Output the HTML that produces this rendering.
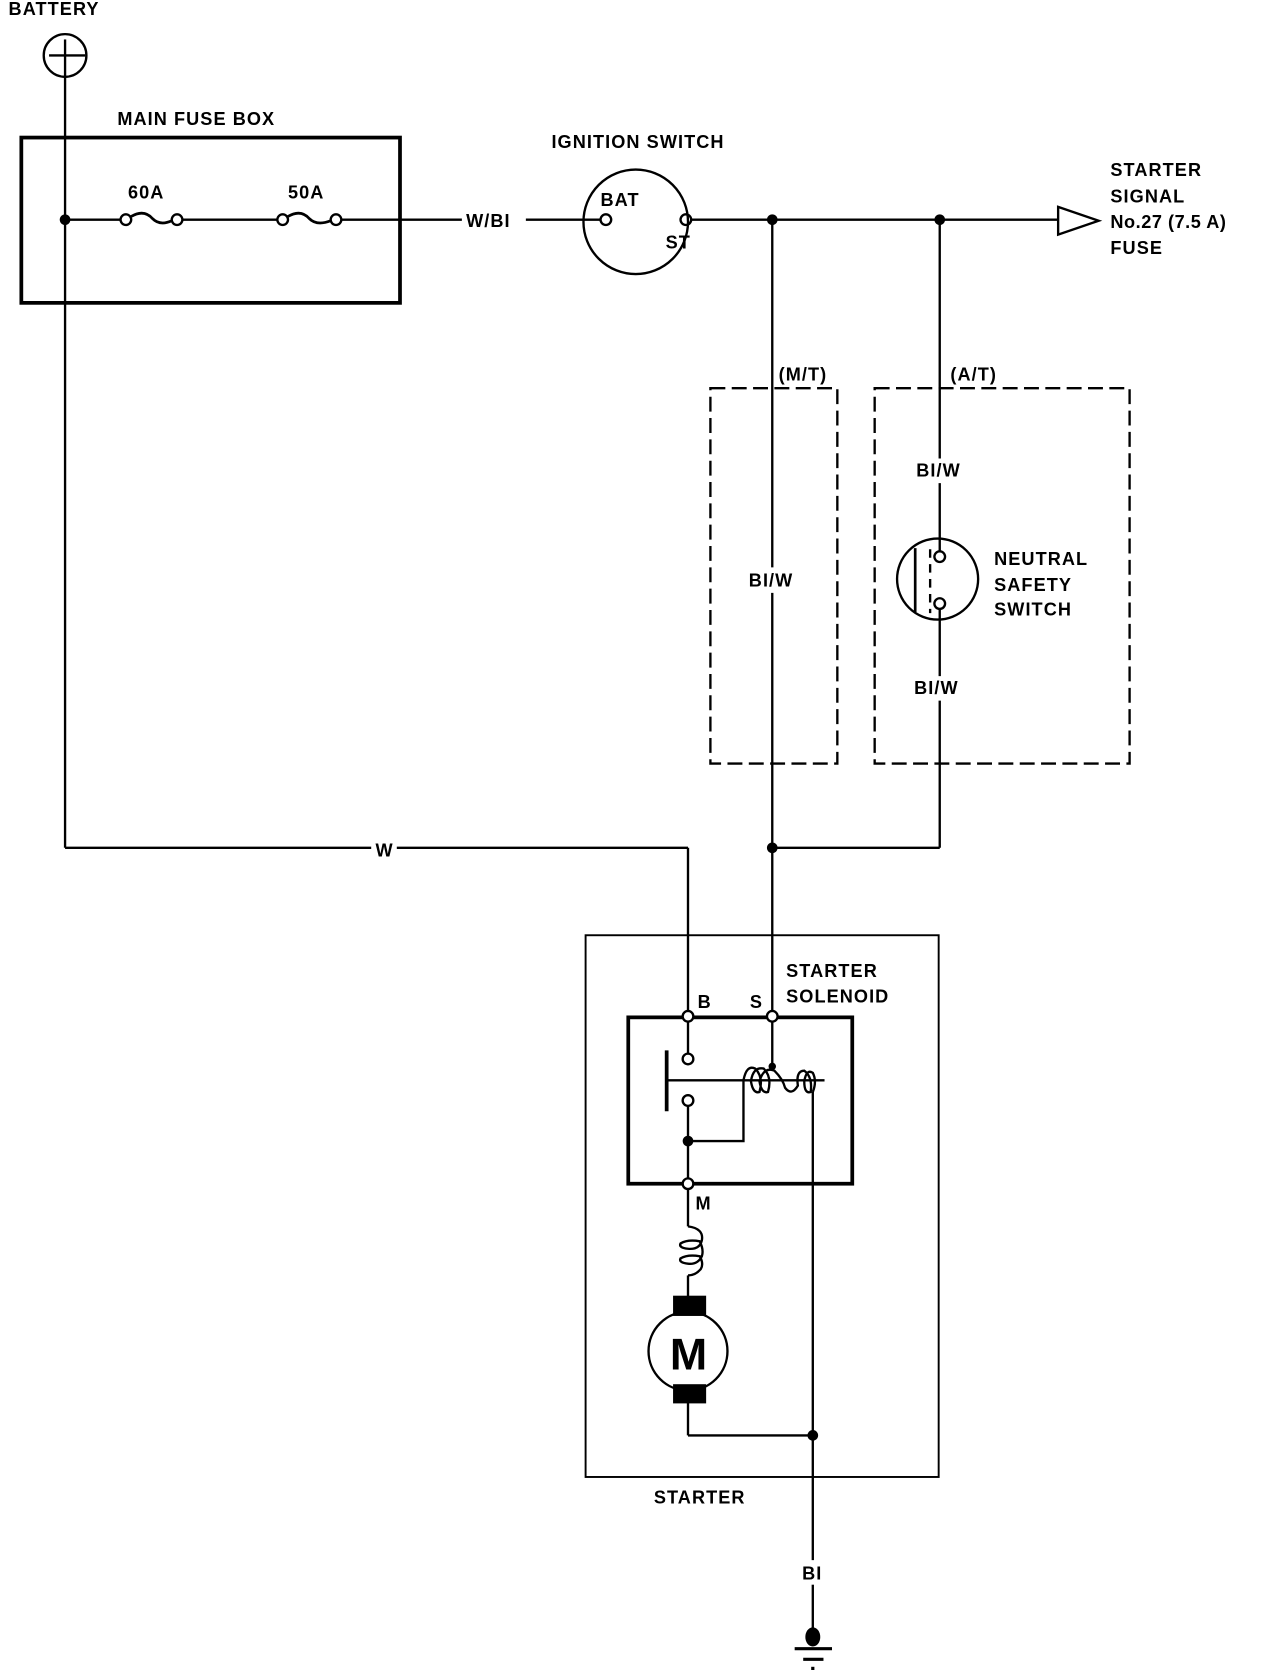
<!DOCTYPE html>
<html><head><style>
html,body{margin:0;padding:0;background:#fff;}
svg{display:block;}
text{font-family:"Liberation Sans",sans-serif;font-weight:bold;font-size:17px;fill:#000;letter-spacing:1px;}
</style></head><body>
<svg width="1264" height="1670" viewBox="0 0 1185 1566" preserveAspectRatio="none" xmlns="http://www.w3.org/2000/svg">
<g fill="none" stroke="#000" stroke-width="2.2">
<circle cx="61" cy="52" r="20"/>
<line x1="46" y1="52" x2="80" y2="52"/><line x1="61" y1="37" x2="61" y2="72"/>
<line x1="61" y1="72" x2="61" y2="795"/>
<rect x="20" y="129" width="355" height="155" stroke-width="3.5"/>
<line x1="61" y1="206" x2="113" y2="206"/>
<circle cx="118" cy="206" r="5"/><circle cx="166" cy="206" r="5"/>
<path d="M123 203 Q135 196 143 205 Q150 212 161 207" stroke-width="2.6"/>
<line x1="171" y1="206" x2="260" y2="206"/>
<circle cx="265" cy="206" r="5"/><circle cx="315" cy="206" r="5"/>
<path d="M270 203 Q282 196 290 205 Q297 212 310 207" stroke-width="2.6"/>
<line x1="320" y1="206" x2="433" y2="206"/>
<line x1="493" y1="206" x2="563" y2="206"/>
<circle cx="596" cy="208" r="49"/>
<circle cx="568" cy="206" r="5"/><circle cx="643" cy="206" r="5"/>
<line x1="648" y1="206" x2="992" y2="206"/>
<path d="M992 194 L1030 207 L992 220 Z"/>
<line x1="724" y1="206" x2="724" y2="532"/>
<line x1="724" y1="556" x2="724" y2="948"/>
<rect x="666" y="364" width="119" height="352" stroke-dasharray="14 6"/>
<line x1="881" y1="206" x2="881" y2="430"/>
<line x1="881" y1="453" x2="881" y2="517"/>
<rect x="820" y="364" width="239" height="352" stroke-dasharray="14 6"/>
<circle cx="879" cy="543" r="38"/>
<circle cx="881" cy="522" r="5"/><circle cx="881" cy="566" r="5"/>
<line x1="858" y1="514" x2="858" y2="574" stroke-width="2.5"/>
<line x1="872" y1="515" x2="872" y2="575" stroke-dasharray="8 6"/>
<line x1="881" y1="571" x2="881" y2="634"/>
<line x1="881" y1="657" x2="881" y2="795"/>
<line x1="724" y1="795" x2="881" y2="795"/>
<line x1="61" y1="795" x2="348" y2="795"/>
<line x1="372" y1="795" x2="645" y2="795"/>
<line x1="645" y1="795" x2="645" y2="948"/>
<rect x="549" y="877" width="331" height="508" stroke-width="1.8"/>
<rect x="589" y="954" width="210" height="156" stroke-width="3.5"/>
<circle cx="645" cy="953" r="5" fill="#fff"/><circle cx="724" cy="953" r="5" fill="#fff"/>
<circle cx="645" cy="1110" r="5" fill="#fff"/>
<line x1="645" y1="958" x2="645" y2="988"/>
<circle cx="645" cy="993" r="5"/><circle cx="645" cy="1032" r="5"/>
<line x1="645" y1="1037" x2="645" y2="1105"/>
<line x1="625" y1="985" x2="625" y2="1042" stroke-width="3.5"/>
<line x1="625" y1="1013" x2="773" y2="1013"/>
<path d="M645 1070 H697 V1013"/>
<path d="M697 1013 Q700 998 708 1002 Q716 1010 712 1024 Q706 1026 704 1014 Q706 1000 716 1002 Q724 1010 720 1024 Q714 1026 712 1014 Q716 1000 726 1004 Q734 1012 736 1020 Q742 1028 748 1018 Q746 1004 754 1004 Q762 1010 760 1024 Q754 1026 754 1014 Q756 1002 762 1006 Q766 1014 762 1024"/>
<line x1="724" y1="958" x2="724" y2="1000"/>
<line x1="762" y1="1024" x2="762" y2="1463"/>
<line x1="762" y1="1486" x2="762" y2="1530"/>
<line x1="645" y1="1115" x2="645" y2="1150"/>
<path d="M645 1150 Q660 1152 658 1163 Q656 1172 645 1171 Q636 1170 638 1166 Q645 1162 656 1164 Q660 1172 658 1178 Q654 1186 645 1185 Q636 1184 638 1180 Q645 1176 656 1178 Q660 1185 657 1190 Q652 1196 645 1196"/>
<line x1="645" y1="1196" x2="645" y2="1216"/>
<circle cx="645" cy="1267" r="37"/>
<line x1="645" y1="1315" x2="645" y2="1346"/>
<line x1="645" y1="1346" x2="762" y2="1346"/>
<line x1="745" y1="1546" x2="780" y2="1546" stroke-width="3"/>
<line x1="753" y1="1556" x2="772" y2="1556" stroke-width="3"/>
<line x1="762" y1="1563" x2="762" y2="1566" stroke-width="3"/>
</g>
<g fill="#000">
<circle cx="61" cy="206" r="5"/>
<circle cx="724" cy="206" r="5"/><circle cx="881" cy="206" r="5"/>
<circle cx="724" cy="795" r="5"/>
<circle cx="645" cy="1070" r="5"/><circle cx="724" cy="1000" r="3.5"/>
<circle cx="762" cy="1346" r="5"/>
<ellipse cx="762" cy="1535" rx="7" ry="9"/>
<rect x="631" y="1215" width="31" height="19"/>
<rect x="631" y="1298" width="31" height="18"/>
</g>
<text x="8" y="14">BATTERY</text>
<text x="110" y="117">MAIN FUSE BOX</text>
<text x="120" y="186">60A</text>
<text x="270" y="186">50A</text>
<text x="437" y="213">W/BI</text>
<text x="517" y="139">IGNITION SWITCH</text>
<text x="563" y="193">BAT</text>
<text x="624" y="233">ST</text>
<text x="1041" y="165">STARTER</text>
<text x="1041" y="190">SIGNAL</text>
<text x="1041" y="214" style="letter-spacing:0.5px">No.27 (7.5 A)</text>
<text x="1041" y="238">FUSE</text>
<text x="730" y="357">(M/T)</text>
<text x="891" y="357">(A/T)</text>
<text x="702" y="550">BI/W</text>
<text x="859" y="447">BI/W</text>
<text x="857" y="651">BI/W</text>
<text x="932" y="530">NEUTRAL</text>
<text x="932" y="554">SAFETY</text>
<text x="932" y="577">SWITCH</text>
<text x="352" y="803">W</text>
<text x="737" y="916">STARTER</text>
<text x="737" y="940">SOLENOID</text>
<text x="654" y="945">B</text>
<text x="703" y="945">S</text>
<text x="652" y="1134">M</text>
<text x="628" y="1284" style="font-size:42px;letter-spacing:0">M</text>
<text x="613" y="1410">STARTER</text>
<text x="752" y="1481">BI</text>
</svg>
</body></html>
